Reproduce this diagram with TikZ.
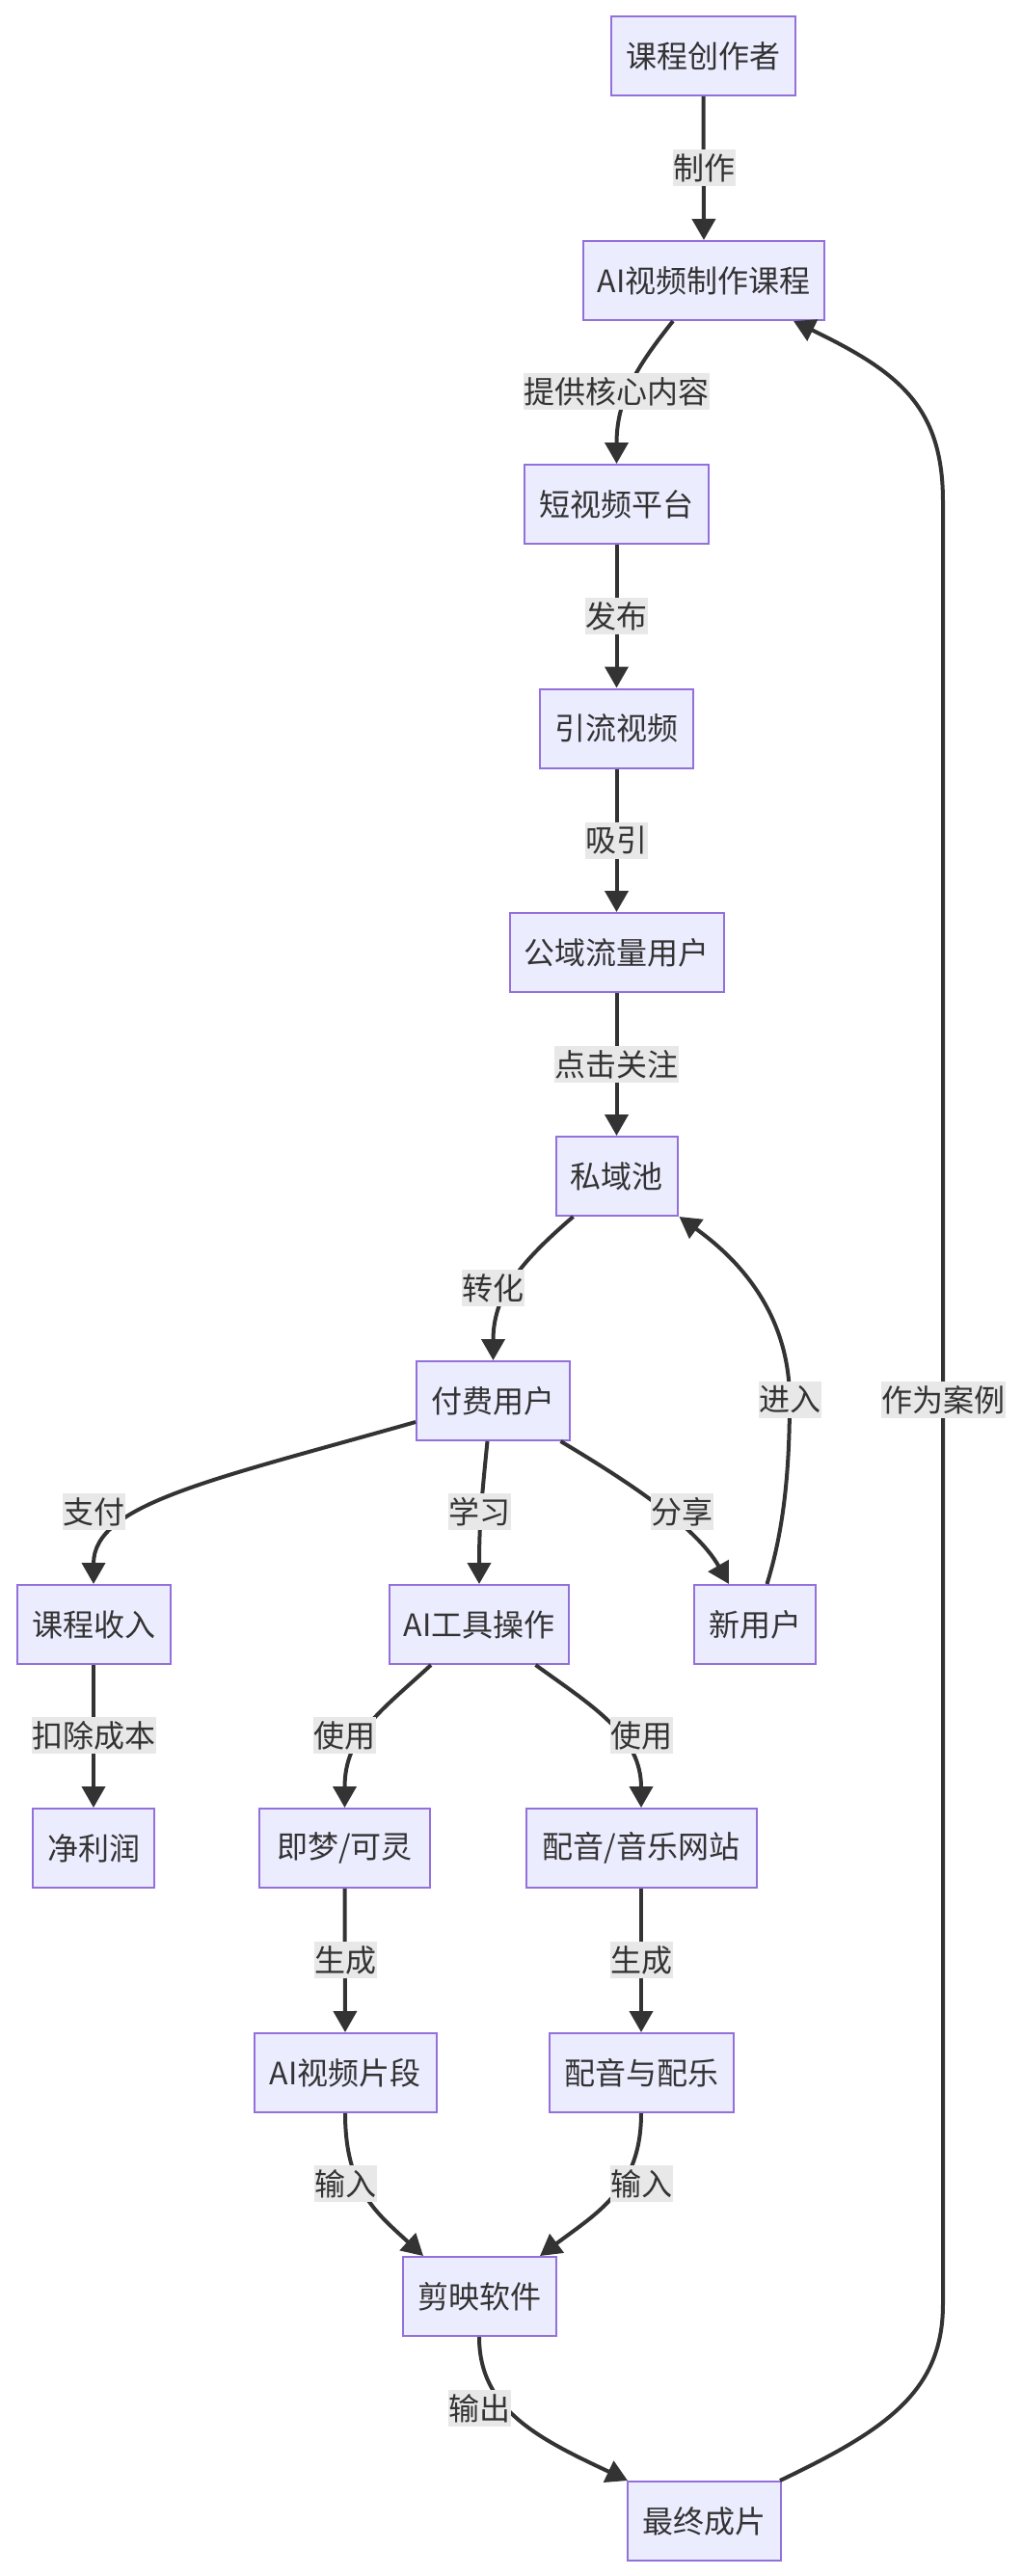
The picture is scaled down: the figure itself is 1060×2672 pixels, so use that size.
\documentclass[tikz,border=0pt]{standalone}
\usepackage{fontspec}
\newfontfamily\cjkfont{Noto Sans CJK SC}
\usetikzlibrary{arrows.meta}
\definecolor{boxfill}{HTML}{ECECFF}
\definecolor{boxborder}{HTML}{9370DB}
\definecolor{linecol}{HTML}{333333}
\definecolor{labelbg}{HTML}{E8E8E8}
\definecolor{textcol}{HTML}{333333}
\newcommand\dfont{\cjkfont\fontsize{32pt}{38pt}\selectfont}
\begin{document}
\begin{tikzpicture}[x=1pt,y=-1pt,
  box/.style={draw=boxborder, fill=boxfill, line width=2pt, minimum height=82pt, inner sep=0pt, text=textcol, font=\dfont},
  elabel/.style={fill=labelbg, inner xsep=0.5pt, inner ysep=0pt, minimum height=38pt, text=textcol, font=\dfont},
  conn/.style={draw=linecol, line width=4pt, -{Triangle[length=22pt,width=24pt]}},
]
\fill[white] (0,0) rectangle (1060,2672);
\useasboundingbox (0,0) rectangle (1060,2672);

% nodes
\node[box, minimum width=191pt] (n1) at (729.5,58) {课程创作者};
\node[box, minimum width=250pt] (n2) at (730,291) {AI视频制作课程};
\node[box, minimum width=191pt] (n3) at (639.5,523) {短视频平台};
\node[box, minimum width=159pt] (n4) at (639.5,755.5) {引流视频};
\node[box, minimum width=222pt] (n5) at (639.5,988) {公域流量用户};
\node[box, minimum width=126pt] (n6) at (639.5,1220) {私域池};
\node[box, minimum width=159pt] (n7) at (511.5,1453) {付费用户};
\node[box, minimum width=159pt] (n8) at (97,1685) {课程收入};
\node[box, minimum width=186pt] (n9) at (497,1685) {AI工具操作};
\node[box, minimum width=126pt] (n10) at (783,1685) {新用户};
\node[box, minimum width=126pt] (n11) at (97,1917) {净利润};
\node[box, minimum width=177pt] (n12) at (357.5,1917) {即梦/可灵};
\node[box, minimum width=239pt] (n13) at (665,1917) {配音/音乐网站};
\node[box, minimum width=189pt] (n14) at (358,2150) {AI视频片段};
\node[box, minimum width=191pt] (n15) at (665,2150) {配音与配乐};
\node[box, minimum width=159pt] (n16) at (497,2382) {剪映软件};
\node[box, minimum width=159pt] (n17) at (730,2615) {最终成片};

% connectors
\draw[conn] (n1.south) -- (n2.north);
\draw[conn] ([xshift=-32pt]n2.south) .. controls (665,375) and (639.5,410) .. (n3.north);
\draw[conn] (n3.south) -- (n4.north);
\draw[conn] (n4.south) -- (n5.north);
\draw[conn] (n5.south) -- (n6.north);
\draw[conn] ([xshift=-45pt]n6.south) .. controls (545,1305) and (511.5,1340) .. (n7.north);
\draw[conn] ([yshift=-22pt]n7.west) .. controls (220,1535) and (97,1560) .. (n8.north);
\draw[conn] ([xshift=-6pt]n7.south) .. controls (500,1550) and (497,1580) .. (n9.north);
\draw[conn] ([xshift=70pt]n7.south) .. controls (640,1530) and (720,1580) .. ([xshift=-27pt]n10.north);
\draw[conn] ([xshift=12.5pt]n10.north) .. controls (812,1590) and (819,1530) .. (819,1452) .. controls (819,1350) and (750,1295) .. ([xshift=65pt]n6.south);
\draw[conn] (n8.south) -- (n11.north);
\draw[conn] ([xshift=-50pt]n9.south) .. controls (395,1775) and (357.5,1800) .. (n12.north);
\draw[conn] ([xshift=58.5pt]n9.south) .. controls (615,1770) and (665,1800) .. (n13.north);
\draw[conn] (n12.south) -- (n14.north);
\draw[conn] (n13.south) -- (n15.north);
\draw[conn] (n14.south) .. controls (358,2270) and (390,2295) .. ([xshift=-58pt]n16.north);
\draw[conn] (n15.south) .. controls (665,2270) and (620,2295) .. ([xshift=63pt]n16.north);
\draw[conn] (n16.south) .. controls (497,2500) and (560,2530) .. ([xshift=-79pt]n17.north);
\draw[conn] ([xshift=79pt]n17.north) .. controls (920,2520) and (978,2480) .. (978,2390) -- (978,520) .. controls (978,420) and (930,385) .. ([xshift=93pt]n2.south);

% edge labels
\node[elabel] (l1) at (730,174) {制作};
\node[elabel] (l2) at (639.5,406) {提供核心内容};
\node[elabel] (l3) at (639.5,639) {发布};
\node[elabel] (l4) at (639.5,872) {吸引};
\node[elabel] (l5) at (639.5,1104) {点击关注};
\node[elabel] (l6) at (511.5,1336) {转化};
\node[elabel] (l7) at (97,1568) {支付};
\node[elabel] (l8) at (497,1568) {学习};
\node[elabel] (l9) at (707,1568) {分享};
\node[elabel] (l10) at (819,1452) {进入};
\node[elabel] (l11) at (978,1452) {作为案例};
\node[elabel] (l12) at (97,1800) {扣除成本};
\node[elabel] (l13) at (357.5,1800) {使用};
\node[elabel] (l14) at (665,1800) {使用};
\node[elabel] (l15) at (358,2033) {生成};
\node[elabel] (l16) at (665,2033) {生成};
\node[elabel] (l17) at (358,2265) {输入};
\node[elabel] (l18) at (665,2265) {输入};
\node[elabel] (l19) at (497,2498) {输出};
\end{tikzpicture}
\end{document}
